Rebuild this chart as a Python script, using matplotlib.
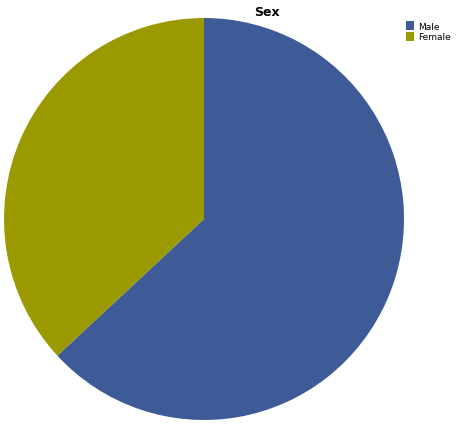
import matplotlib
matplotlib.use("Agg")
import matplotlib.pyplot as plt
from matplotlib.patches import Patch

categories = ["Male", "Female"]
values = [63.1, 36.9]
colors = ["#3f5b97", "#9a9a00"]
title = "Sex"

fig = plt.figure(figsize=(4.57, 4.27), dpi=100)
ax = fig.add_axes([4/457, 6/427, 400/457, 402/427])
ax.pie(values, colors=colors, startangle=90, counterclock=False,
       wedgeprops=dict(linewidth=0))
ax.set_aspect("auto")
ax.set_xlim(-1, 1)
ax.set_ylim(-1, 1)

fig.text(267/457, 1 - 12/427, title, ha="center", va="center",
         fontsize=9, fontweight="bold")

handles = [Patch(facecolor=c, edgecolor="none", label=l) for c, l in zip(colors, categories)]
fig.legend(handles=handles, loc="upper left", bbox_to_anchor=(400/457, 1 - 16/427),
           frameon=False, fontsize=6.5, handlelength=0.9, handleheight=1.1,
           handletextpad=0.4, labelspacing=0.15, borderpad=0.2)

fig.savefig("out.png", dpi=100)
